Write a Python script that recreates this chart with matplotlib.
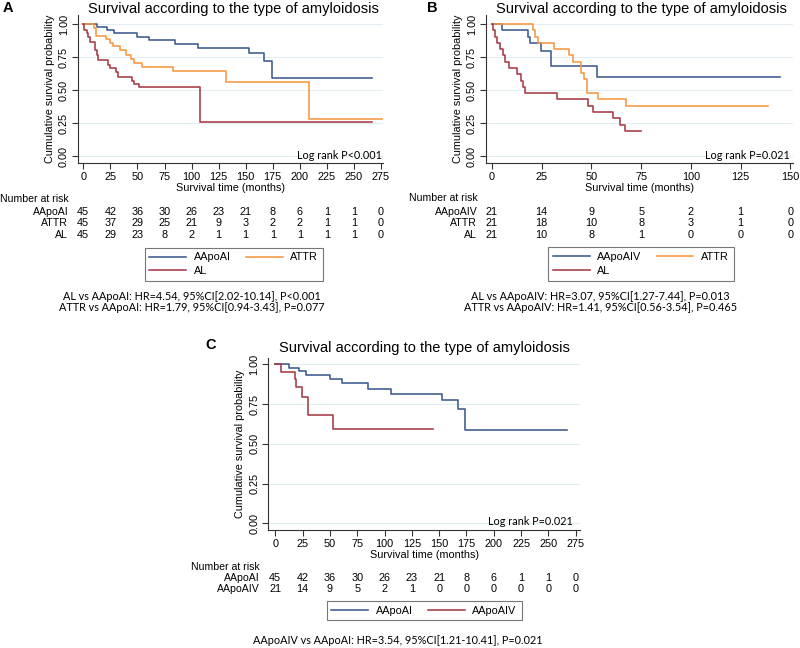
import matplotlib
matplotlib.use("Agg")
import matplotlib.pyplot as plt
from matplotlib.lines import Line2D
import matplotlib.transforms as mtransforms

# ---------------- data ----------------
# Panel A
a_aapoai_t = [0, 13, 22, 28, 50, 61, 85, 106, 153, 167, 174, 267]
a_aapoai_s = [1.0, 0.978, 0.956, 0.932, 0.905, 0.88, 0.847, 0.815, 0.777, 0.72, 0.59, 0.59]
a_attr_t = [0, 9.5, 12, 21, 24.5, 27, 33.5, 39.5, 44.5, 47, 54, 82.5, 132, 208, 275.5]
a_attr_s = [1.0, 0.968, 0.91, 0.885, 0.858, 0.835, 0.8, 0.765, 0.735, 0.705, 0.672, 0.646, 0.564, 0.282, 0.282]
a_al_t = [0, 1, 3, 4.6, 6.2, 10.8, 12.3, 14, 23, 24.6, 30, 32.4, 44.7, 46.8, 51.7, 107.8, 267]
a_al_s = [1.0, 0.957, 0.93, 0.9, 0.864, 0.805, 0.763, 0.73, 0.69, 0.667, 0.634, 0.596, 0.57, 0.545, 0.523, 0.26, 0.26]

# Panel B
b_aapoaiv_t = [0, 5.2, 18.2, 19.1, 24.6, 29.5, 53, 144.6]
b_aapoaiv_s = [1.0, 0.952, 0.905, 0.857, 0.795, 0.68, 0.595, 0.595]
b_attr_t = [0, 20.4, 21.6, 23.3, 31.1, 38.6, 40.5, 44.7, 46.2, 47.6, 53.5, 67.6, 138.5]
b_attr_s = [1.0, 0.952, 0.905, 0.857, 0.81, 0.765, 0.715, 0.63, 0.58, 0.475, 0.43, 0.38, 0.38]
b_al_t = [0, 0.3, 1.5, 2.3, 4, 5.4, 6.5, 8.7, 12.4, 14.4, 15.7, 16.6, 32.5, 48.4, 50.6, 61, 64.3, 66.8, 74.7]
b_al_s = [1.0, 0.952, 0.905, 0.857, 0.81, 0.762, 0.714, 0.667, 0.619, 0.571, 0.524, 0.476, 0.429,
          0.381, 0.333, 0.286, 0.238, 0.19, 0.19]

# Panel C
c_aapoai_t = a_aapoai_t
c_aapoai_s = a_aapoai_s
c_aapoaiv_t = b_aapoaiv_t
c_aapoaiv_s = b_aapoaiv_s

# ticks & risk tables
ticks_long = [0, 25, 50, 75, 100, 125, 150, 175, 200, 225, 250, 275]
ticks_short = [0, 25, 50, 75, 100, 125, 150]
y_ticks = [0.0, 0.25, 0.5, 0.75, 1.0]
y_ticklabels = ["0.00", "0.25", "0.50", "0.75", "1.00"]

risk_a_aapoai = [45, 42, 36, 30, 26, 23, 21, 8, 6, 1, 1, 0]
risk_a_attr = [45, 37, 29, 25, 21, 9, 3, 2, 2, 1, 1, 0]
risk_a_al = [45, 29, 23, 8, 2, 1, 1, 1, 1, 1, 1, 0]
risk_b_aapoaiv = [21, 14, 9, 5, 2, 1, 0]
risk_b_attr = [21, 18, 10, 8, 3, 1, 0]
risk_b_al = [21, 10, 8, 1, 0, 0, 0]
risk_c_aapoai = [45, 42, 36, 30, 26, 23, 21, 8, 6, 1, 1, 0]
risk_c_aapoaiv = [21, 14, 9, 5, 2, 1, 0, 0, 0, 0, 0, 0]

title = "Survival according to the type of amyloidosis"
hr_a = ["AL vs AApoAI: HR=4.54, 95%CI[2.02-10.14], P<0.001",
        "ATTR vs AApoAI: HR=1.79, 95%CI[0.94-3.43], P=0.077"]
hr_b = ["AL vs AApoAIV: HR=3.07, 95%CI[1.27-7.44], P=0.013",
        "ATTR vs AApoAIV: HR=1.41, 95%CI[0.56-3.54], P=0.465"]
hr_c = ["AApoAIV vs AApoAI: HR=3.54, 95%CI[1.21-10.41], P=0.021"]

# ---------------- style ----------------
BLUE = "#3c5a8e"
ORANGE = "#f7963f"
RED = "#a83a44"
GRID = "#e4edf3"
AXC = "#333333"
MAIN = ["Liberation Sans", "DejaVu Sans"]
ANNOT = ["Lato", "DejaVu Sans"]
FS = 7.6
LW = 1.15

plt.rcParams["font.family"] = MAIN
W, H = 800, 648
fig = plt.figure(figsize=(W / 100, H / 100), dpi=100)


def fy(py):
    return 1 - py / H


def fx(px):
    return px / W


def make_axes(l, t, r, b, xlim, ylim, xticks):
    ax = fig.add_axes([l / W, 1 - b / H, (r - l) / W, (b - t) / H])
    ax.set_xlim(*xlim)
    ax.set_ylim(*ylim)
    for s in ["top", "right"]:
        ax.spines[s].set_visible(False)
    for s in ["left", "bottom"]:
        ax.spines[s].set_color(AXC)
        ax.spines[s].set_linewidth(0.8)
    ax.set_xticks(xticks)
    ax.set_xticklabels([str(t) for t in xticks])
    ax.set_yticks(y_ticks)
    ax.set_yticklabels(y_ticklabels, rotation=90, va="center")
    ax.tick_params(axis="both", direction="out", length=4, width=0.8, color=AXC,
                   labelsize=7.8, pad=2.5)
    for yv in y_ticks:
        ax.axhline(yv, color=GRID, lw=0.8, zorder=0)
    ax.set_ylabel("Cumulative survival probability", fontsize=7.8, labelpad=3)
    ax.set_xlabel("Survival time (months)", fontsize=7.8, labelpad=1)
    return ax


def risk_table(ax, ticks, rows, labels, y_head, y_rows, x_right):
    tr = mtransforms.blended_transform_factory(ax.transData, fig.transFigure)
    fig.text(fx(x_right), fy(y_head), "Number at risk", ha="right", va="center", fontsize=FS)
    for vals, lab, yy in zip(rows, labels, y_rows):
        fig.text(fx(x_right), fy(yy), lab, ha="right", va="center", fontsize=FS)
        for t, v in zip(ticks, vals):
            ax.text(t, fy(yy), str(v), transform=tr, ha="center", va="center", fontsize=7.8)


def legend(handles, labels, cx, cy, ncol):
    lg = fig.legend(handles, labels, loc="center", bbox_to_anchor=(fx(cx), fy(cy)),
                    ncol=ncol, fontsize=7.8, frameon=True, fancybox=False,
                    edgecolor="#555555", handlelength=3.4, handletextpad=0.7,
                    columnspacing=1.4, borderpad=0.45, labelspacing=0.35)
    lg.get_frame().set_linewidth(0.8)
    return lg


# ---------------- Panel A ----------------
axA = make_axes(78, 15, 383, 163, (-4.9, 276.8), (-0.053, 1.068), ticks_long)
axA.step(a_aapoai_t, a_aapoai_s, where="post", color=BLUE, lw=LW)
axA.step(a_attr_t, a_attr_s, where="post", color=ORANGE, lw=LW)
axA.step(a_al_t, a_al_s, where="post", color=RED, lw=LW)
axA.text(0.9957, 0.054, "Log rank P<0.001", transform=axA.transAxes, ha="right", va="center",
         fontsize=7.8, family=ANNOT)
fig.text(fx(233.5), fy(8.5), title, ha="center", va="center", fontsize=10.5)
fig.text(fx(3), fy(8.5), "A", ha="left", va="center", fontsize=10.5, weight="bold")
risk_table(axA, ticks_long, [risk_a_aapoai, risk_a_attr, risk_a_al], ["AApoAI", "ATTR", "AL"],
           199, [211.7, 223.3, 235], 68.3)
hA = [Line2D([], [], color=BLUE, lw=LW), Line2D([], [], color=RED, lw=LW),
      Line2D([], [], color=ORANGE, lw=LW)]
legend(hA, ["AApoAI", "AL", "ATTR"], 233.8, 264.3, 2)
fig.text(fx(192), fy(296.7), hr_a[0], ha="center", va="center", fontsize=7.8, family=ANNOT)
fig.text(fx(192), fy(307.7), hr_a[1], ha="center", va="center", fontsize=7.8, family=ANNOT)

# ---------------- Panel B ----------------
axB = make_axes(486, 15, 793, 163, (-3.0, 151.3), (-0.053, 1.068), ticks_short)
axB.step(b_aapoaiv_t, b_aapoaiv_s, where="post", color=BLUE, lw=LW)
axB.step(b_attr_t, b_attr_s, where="post", color=ORANGE, lw=LW)
axB.step(b_al_t, b_al_s, where="post", color=RED, lw=LW)
axB.text(0.990, 0.054, "Log rank P=0.021", transform=axB.transAxes, ha="right", va="center",
         fontsize=7.8, family=ANNOT)
fig.text(fx(641.7), fy(8.5), title, ha="center", va="center", fontsize=10.5)
fig.text(fx(427), fy(8.5), "B", ha="left", va="center", fontsize=10.5, weight="bold")
risk_table(axB, ticks_short, [risk_b_aapoaiv, risk_b_attr, risk_b_al], ["AApoAIV", "ATTR", "AL"],
           198.3, [211.7, 223.3, 235], 477.3)
hB = [Line2D([], [], color=BLUE, lw=LW), Line2D([], [], color=RED, lw=LW),
      Line2D([], [], color=ORANGE, lw=LW)]
legend(hB, ["AApoAIV", "AL", "ATTR"], 640.8, 264, 2)
fig.text(fx(600.8), fy(296), hr_b[0], ha="center", va="center", fontsize=7.8, family=ANNOT)
fig.text(fx(600.8), fy(307.7), hr_b[1], ha="center", va="center", fontsize=7.8, family=ANNOT)

# ---------------- Panel C ----------------
axC = make_axes(268.3, 358.3, 580, 530, (-6.4, 278.9), (-0.042, 1.038), ticks_long)
axC.step(c_aapoai_t, c_aapoai_s, where="post", color=BLUE, lw=LW)
axC.step(c_aapoaiv_t, c_aapoaiv_s, where="post", color=RED, lw=LW)
axC.text(0.9775, 0.048, "Log rank P=0.021", transform=axC.transAxes, ha="right", va="center",
         fontsize=7.8, family=ANNOT)
fig.text(fx(424), fy(348), title, ha="center", va="center", fontsize=10.5)
fig.text(fx(205), fy(345), "C", ha="left", va="center", fontsize=10.5, weight="bold")
risk_table(axC, ticks_long, [risk_c_aapoai, risk_c_aapoaiv], ["AApoAI", "AApoAIV"],
           566.7, [578.3, 589], 260)
hC = [Line2D([], [], color=BLUE, lw=LW), Line2D([], [], color=RED, lw=LW)]
legend(hC, ["AApoAI", "AApoAIV"], 424, 610.5, 2)
fig.text(fx(398), fy(640.7), hr_c[0], ha="center", va="center", fontsize=7.8, family=ANNOT)

fig.savefig("out.png", dpi=100)
